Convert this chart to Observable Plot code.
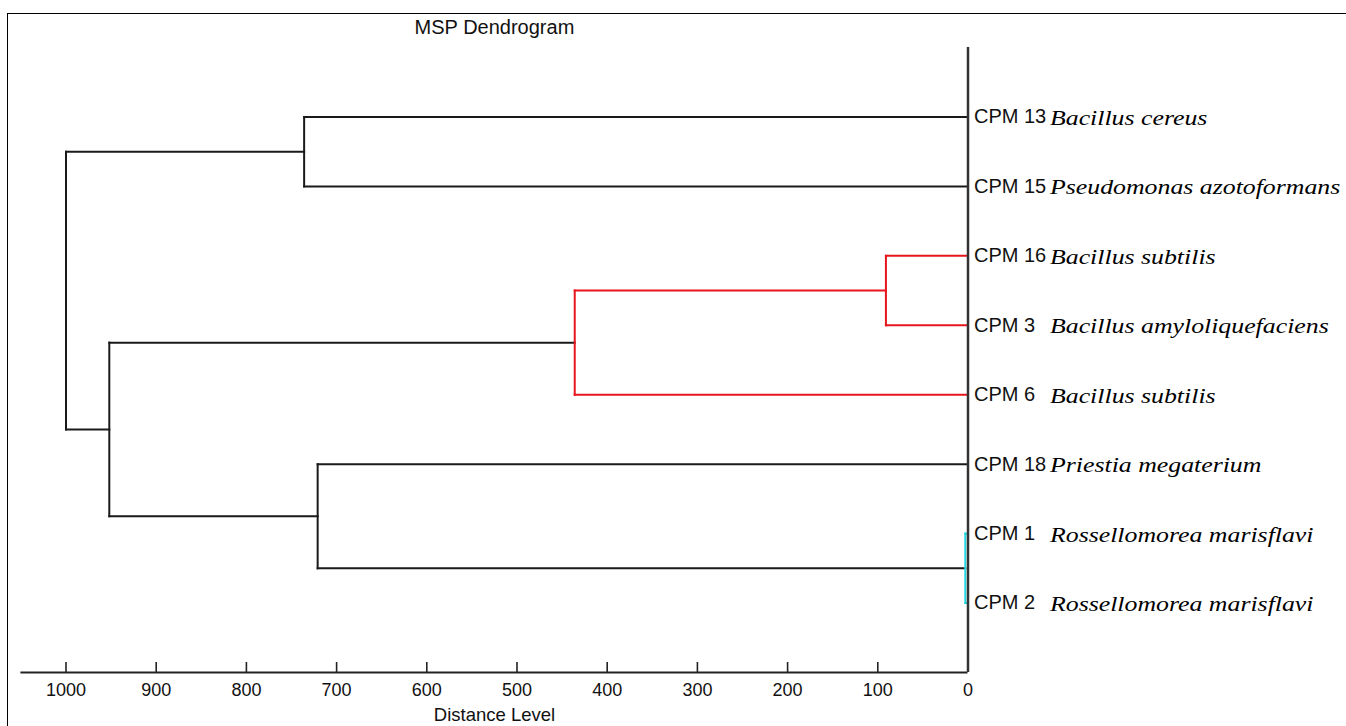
<!DOCTYPE html>
<html><head><meta charset="utf-8">
<script src="https://cdn.jsdelivr.net/npm/d3@7"></script>
<script src="https://cdn.jsdelivr.net/npm/@observablehq/plot@0.6"></script>
<style>
html,body{margin:0;padding:0;background:#fff;}
#wrap{position:relative;width:1346px;height:726px;overflow:hidden;background:#fff;}
#frame{position:absolute;left:7px;top:13px;right:-2px;bottom:-2px;border-top:1.5px solid #000;border-left:1.5px solid #000;}
#chart{position:absolute;left:0;top:0;}
</style></head><body>
<div id="wrap"><div id="frame"></div><div id="chart"></div></div>
<script>
const title = "MSP Dendrogram";
const xLabel = "Distance Level";
const leaves = ["CPM 13","CPM 15","CPM 16","CPM 3","CPM 6","CPM 18","CPM 1","CPM 2"];
const species = ["Bacillus cereus","Pseudomonas azotoformans","Bacillus subtilis","Bacillus amyloliquefaciens","Bacillus subtilis","Priestia megaterium","Rossellomorea marisflavi","Rossellomorea marisflavi"];
const nodeIds   = ["n1","n2","n3","n4","n5","n6","n7"];
const mergeA    = ["CPM 13","CPM 16","n2","CPM 1","CPM 18","n3","n1"];
const mergeB    = ["CPM 15","CPM 3","CPM 6","CPM 2","n4","n5","n6"];
const mergeDist = [736, 91, 436, 3, 721, 952, 1000];
const mergeCluster = ["none","A","A","B","none","none","none"];
const tickValues = [1000,900,800,700,600,500,400,300,200,100,0];
const axisExtent = [1050, 0];
const clusterNames = ["none","A","B"];
const clusterColors = ["#1a1a1a","#e8141c","#22d8e0"];

const pos = new Map();
leaves.forEach((l,i)=>pos.set(l,{y:i+1,d:0}));
nodeIds.forEach((id,i)=>{
  const a=pos.get(mergeA[i]), b=pos.get(mergeB[i]);
  pos.set(id,{y:(a.y+b.y)/2,d:mergeDist[i]});
});
const segs=[];
nodeIds.forEach((id,i)=>{
  const n=pos.get(id), c=mergeCluster[i];
  for (const ch of [mergeA[i],mergeB[i]]) {
    const p=pos.get(ch);
    segs.push({x1:p.d,x2:n.d,y1:p.y,y2:p.y,c});
  }
  segs.push({x1:n.d,x2:n.d,y1:pos.get(mergeA[i]).y,y2:pos.get(mergeB[i]).y,c});
});
segs.sort((a,b)=>(a.c==="none"?0:1)-(b.c==="none"?0:1));
const mid = (axisExtent[0]+axisExtent[1])/2;

const plot = Plot.plot({
  width:1346, height:726,
  marginTop:0, marginBottom:0, marginLeft:0, marginRight:0,
  x:{domain:[1000,0], range:[65.5,967.5], axis:null},
  y:{domain:[0,9], range:[47,672], axis:null},
  color:{type:"ordinal", domain:clusterNames, range:clusterColors},
  style:{background:"transparent", fontFamily:"'Liberation Sans', Arial, sans-serif", color:"#111"},
  marks:[
    Plot.ruleY([9],{x1:axisExtent[0],x2:axisExtent[1],stroke:"#222",strokeWidth:2}),
    Plot.ruleX(tickValues,{x:d=>d,y1:9,y2:9,insetTop:-10,stroke:"#222",strokeWidth:1.6}),
    Plot.text(tickValues,{x:d=>d,y:9,dy:18,text:d=>String(d),fontSize:18,fill:"#111"}),
    Plot.link(segs,{x1:"x1",y1:"y1",x2:"x2",y2:"y2",stroke:"c",strokeWidth:2,strokeLinecap:"square"}),
    Plot.ruleX([0],{y1:0,y2:9,stroke:"#333",strokeWidth:2.5}),
    Plot.text(leaves,{x:0,y:(d,i)=>i+1,text:d=>d,textAnchor:"start",dx:6,fontSize:20,fill:"#111"}),
    Plot.text(species,{x:0,y:(d,i)=>i+1,text:d=>d,textAnchor:"start",dx:82,dy:1,fontSize:21.5,fontStyle:"italic",fontFamily:"'Liberation Serif', 'Times New Roman', serif",fill:"#000"}),
    Plot.text([title],{x:mid,y:0,dy:-20,text:d=>d,fontSize:20,fill:"#111"}),
    Plot.text([xLabel],{x:mid,y:9,dy:43,text:d=>d,fontSize:18.5,fill:"#111"})
  ]
});
document.getElementById("chart").appendChild(plot);
// widen the italic species names like the reference's wide serif italic
d3.select(plot).selectAll("g[font-style=italic] text").each(function(){
  const w = this.getComputedTextLength();
  this.setAttribute("textLength", (w*1.2).toFixed(1));
  this.setAttribute("lengthAdjust", "spacingAndGlyphs");
});
</script>
</body></html>
